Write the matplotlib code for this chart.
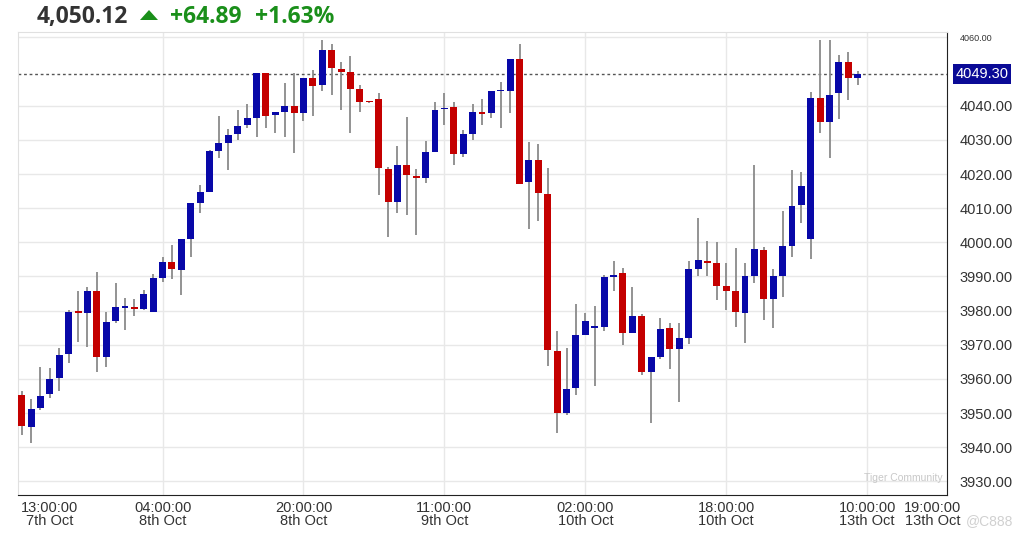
import numpy as np
import matplotlib
matplotlib.use("Agg")
import matplotlib.pyplot as plt
from matplotlib.patches import Polygon

# hourly OHLC candles (oldest first)
opens = [3955.3, 3946.0, 3951.4, 3955.6, 3960.4, 3967.2, 3979.7, 3979.2, 3985.6, 3966.3,
         3977.0, 3980.8, 3981.2, 3980.4, 3979.7, 3989.5, 3994.3, 3991.9, 4000.9, 4011.4,
         4014.8, 4026.8, 4029.2, 4031.7, 4034.3, 4036.3, 4049.7, 4037.2, 4038.2, 4039.8,
         4038.0, 4048.2, 4046.0, 4056.3, 4050.9, 4050.0, 4044.8, 4041.1, 4042.1, 4021.4,
         4011.7, 4022.6, 4019.5, 4018.9, 4026.5, 4039.0, 4039.7, 4026.0, 4031.7, 4038.1,
         4037.8, 4044.3, 4044.4, 4053.6, 4017.6, 4024.1, 4014.3, 3968.3, 3950.0, 3957.3,
         3973.0, 3975.0, 3975.3, 3989.8, 3990.9, 3973.4, 3978.4, 3962.0, 3966.5, 3974.8,
         3968.8, 3972.1, 3992.2, 3994.6, 3993.9, 3987.2, 3985.6, 3979.4, 3990.0, 3997.8,
         3983.4, 3990.0, 3998.9, 4010.9, 4000.9, 4042.4, 4035.1, 4043.8, 4052.7, 4048.0]
highs = [3956.5, 3954.0, 3963.4, 3963.1, 3969.0, 3980.2, 3985.6, 3986.8, 3991.2, 3979.6,
         3988.0, 3983.8, 3983.3, 3986.0, 3990.6, 3995.8, 3999.2, 4001.0, 4011.5, 4016.8,
         4027.0, 4037.0, 4033.2, 4038.9, 4040.5, 4049.7, 4049.7, 4038.1, 4046.7, 4049.7,
         4048.2, 4050.6, 4059.2, 4058.2, 4052.9, 4054.5, 4046.0, 4041.2, 4043.8, 4022.1,
         4028.2, 4036.6, 4021.4, 4029.7, 4041.2, 4043.6, 4041.2, 4032.9, 4040.5, 4042.1,
         4044.4, 4047.0, 4053.6, 4058.0, 4029.3, 4028.8, 4021.7, 3973.9, 3969.0, 3981.9,
         3979.4, 3981.4, 3990.4, 3994.6, 3992.4, 3986.8, 3979.0, 3966.5, 3977.8, 3976.3,
         3976.3, 3994.6, 4007.0, 4000.4, 4000.2, 3993.9, 3998.2, 3994.0, 4022.6, 3998.7,
         3992.1, 4009.3, 4021.2, 4020.5, 4044.1, 4059.4, 4059.4, 4054.8, 4055.6, 4050.2]
lows = [3943.6, 3941.2, 3951.0, 3954.3, 3956.6, 3964.6, 3970.7, 3969.2, 3962.0, 3963.4,
        3976.5, 3974.3, 3978.5, 3980.2, 3979.5, 3988.5, 3989.2, 3984.6, 3995.6, 4008.7,
        4014.8, 4024.6, 4021.2, 4030.1, 4033.4, 4030.9, 4033.6, 4032.1, 4030.9, 4026.2,
        4035.6, 4037.0, 4044.3, 4043.1, 4038.7, 4032.1, 4038.2, 4040.8, 4014.0, 4001.5,
        4008.7, 4008.0, 4002.1, 4017.3, 4026.5, 4034.3, 4022.6, 4024.9, 4030.1, 4034.3,
        4036.3, 4033.6, 4037.8, 4017.0, 4003.9, 4006.3, 3963.8, 3944.1, 3949.5, 3955.3,
        3972.8, 3957.8, 3974.0, 3985.6, 3970.0, 3973.3, 3961.2, 3947.0, 3965.8, 3962.8,
        3953.1, 3970.2, 3990.1, 3990.2, 3983.1, 3980.2, 3975.3, 3970.4, 3988.0, 3977.3,
        3975.0, 3984.1, 3995.8, 4005.6, 3995.0, 4032.1, 4024.6, 4036.0, 4041.7, 4046.0]
closes = [3946.2, 3951.2, 3955.1, 3960.1, 3967.0, 3979.7, 3979.4, 3985.6, 3966.3, 3976.8,
          3981.0, 3981.0, 3980.4, 3984.8, 3989.5, 3994.3, 3992.1, 4000.9, 4011.4, 4014.6,
          4026.8, 4029.0, 4031.3, 4034.1, 4036.3, 4049.7, 4037.1, 4038.1, 4039.8, 4038.0,
          4048.2, 4045.8, 4056.3, 4051.2, 4050.0, 4044.9, 4041.2, 4041.0, 4021.7, 4011.7,
          4022.6, 4019.7, 4018.7, 4026.5, 4038.9, 4039.3, 4026.0, 4031.7, 4038.1, 4037.5,
          4044.4, 4044.6, 4053.6, 4017.1, 4024.1, 4014.5, 3968.5, 3950.1, 3957.1, 3972.9,
          3977.0, 3975.1, 3989.7, 3990.3, 3973.4, 3978.4, 3962.0, 3966.5, 3974.6, 3968.8,
          3971.9, 3992.1, 3994.8, 3994.0, 3987.2, 3985.6, 3979.7, 3990.0, 3998.0, 3983.4,
          3990.0, 3998.9, 4010.7, 4016.5, 4042.4, 4035.1, 4043.1, 4052.7, 4048.2, 4049.3]

last_price = 4049.30
header_price = "4,050.12"
header_change = "+64.89"
header_pct = "+1.63%"

# x tick positions (candle index) and their labels
tick_pos = [3, 15, 30, 45, 60, 75, 90, 97]
tick_labels = ["13:00:00\n7th Oct", "04:00:00\n8th Oct", "20:00:00\n8th Oct",
               "11:00:00\n9th Oct", "02:00:00\n10th Oct", "18:00:00\n10th Oct",
               "10:00:00\n13th Oct", "19:00:00\n13th Oct"]
vgrid_pos = [15, 30, 45, 60, 75, 90]
ytick_vals = [3930, 3940, 3950, 3960, 3970, 3980, 3990, 4000, 4010, 4020, 4030, 4040, 4060]

UP = "#0808a8"
DOWN = "#c40000"
WICK = "#8a8a8a"
GREEN = "#1a8f1a"
TXT = "#333333"

o = np.array(opens)
h = np.array(highs)
l = np.array(lows)
c = np.array(closes)
x = np.arange(len(o))
up = c >= o
colors = np.where(up, UP, DOWN)

W, H = 1027, 540
fig = plt.figure(figsize=(W / 100, H / 100), dpi=100)
fig.patch.set_facecolor("white")
ax = fig.add_axes([18 / W, 45 / H, (947 - 18) / W, (495 - 32) / H])

ax.set_xlim(-0.39, 98.5)
ax.set_ylim(3926.0, 4061.6)

# grid
for v in ytick_vals:
    ax.axhline(v, color="#e8e8e8", lw=1, zorder=0)
for p in vgrid_pos:
    ax.axvline(p, color="#e8e8e8", lw=1, zorder=0)

# candles
ax.vlines(x, l, h, color=WICK, lw=1.3, zorder=2)
body_bottom = np.minimum(o, c)
body_h = np.maximum(np.abs(c - o), 0.45)
ax.bar(x, body_h, bottom=body_bottom, width=0.74, color=colors, edgecolor="none", zorder=3)

# last price line and badge
ax.axhline(last_price, color="#555555", lw=1, ls=(0, (2, 2)), zorder=1)
ax.text(1.009, last_price, f"{last_price:.2f}", transform=ax.get_yaxis_transform(),
        ha="left", va="center", fontsize=10.5, family="Liberation Sans", color="white",
        bbox=dict(boxstyle="square,pad=0.18", fc="#0a0a96", ec="none"), clip_on=False)

# axes styling
for s in ["top", "left"]:
    ax.spines[s].set_color("#e0e0e0")
ax.spines["right"].set_color("#222222")
ax.spines["bottom"].set_color("#222222")

ax.yaxis.tick_right()
ax.set_yticks(ytick_vals)
ax.set_yticklabels([f"{v:.2f}" for v in ytick_vals])
ax.tick_params(axis="y", length=0, pad=9, labelsize=10.5, labelcolor=TXT)
for lab, v in zip(ax.get_yticklabels(), ytick_vals):
    lab.set_family("Liberation Sans")
    if v == 4060:
        lab.set_fontsize(6.5)

ax.set_xticks(tick_pos)
ax.set_xticklabels(tick_labels, linespacing=0.95)
ax.tick_params(axis="x", length=0, pad=4, labelsize=10.5, labelcolor=TXT)
for lab in ax.get_xticklabels():
    lab.set_family("Liberation Sans")

# header
fig.text(37 / W, 1 - 17 / H, header_price, fontsize=16.5, family="Open Sans",
         fontweight="bold", color=TXT, ha="left", va="center")
tri = Polygon([[140 / W, 1 - 20 / H], [158 / W, 1 - 20 / H], [149 / W, 1 - 10 / H]],
              closed=True, transform=fig.transFigure, fc=GREEN, ec="none")
fig.patches.append(tri)
fig.text(170 / W, 1 - 17 / H, header_change, fontsize=16.5, family="Open Sans",
         fontweight="bold", color=GREEN, ha="left", va="center")
fig.text(255 / W, 1 - 17 / H, header_pct, fontsize=16.5, family="Open Sans",
         fontweight="bold", color=GREEN, ha="left", va="center")

# watermarks (kept clear of the tick labels)
fig.text(943 / W, 1 - 478 / H, "Tiger Community", fontsize=7.5, family="Liberation Sans",
         color="#c8c8c8", ha="right", va="center")
fig.text(966 / W, 1 - 521 / H, "@C888", fontsize=10, family="Liberation Sans",
         color="#d0d0d0", ha="left", va="center")

fig.savefig("out.png", dpi=100, facecolor="white")
